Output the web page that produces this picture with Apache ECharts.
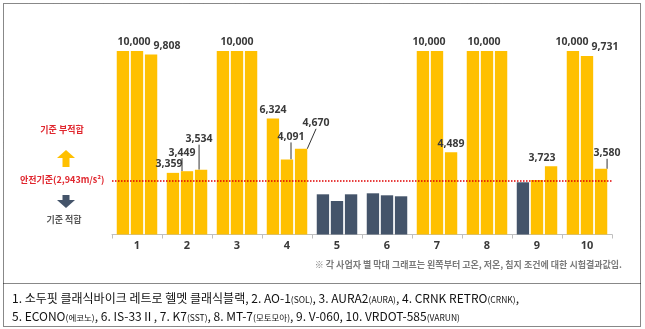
<!DOCTYPE html>
<html><head><meta charset="utf-8">
<script src="https://cdn.jsdelivr.net/npm/echarts@6/dist/echarts.min.js"></script>
<style>html,body{margin:0;padding:0;background:#fff}#c{width:645px;height:329px}</style>
</head><body><div id="c"></div>
<script>
const categories = ['1','2','3','4','5','6','7','8','9','10'];
const hotValues  = [10000, 3359, 10000, 6324, 2190, 2245, 10000, 10000, 2845, 10000];
const coldValues = [10000, 3449, 10000, 4091, 1825, 2136, 10000, 10000, 2970, 9731];
const soakValues = [9808, 3534, 10000, 4670, 2190, 2082, 4489, 10000, 3723, 3580];
const safetyLimit = 2943;
const seriesNames = ['고온', '저온', '침지'];
const noteText = '※ 각 사업자 별 막대 그래프는 왼쪽부터 고온, 저온, 침지 조건에 대한 시험결과값임.';

const YELLOW = '#FFC000', DARK = '#44546A', RED = '#E0262E', TXT = '#3a3a3a';
const FONT = '"Noto Sans CJK KR", "Noto Sans", sans-serif';

// which value labels are shown and how they are nudged (style only)
const labelTweaks = [
  {1: {dx: -4}, 3: {}, 9: {dx: -1}},
  {0: {dx: -3}, 1: {dx: -5, dy: -10, line: true}, 2: {}, 3: {dx: 4, dy: -14, line: true}, 6: {dx: -8}, 7: {dx: -3}, 9: {dx: 18}},
  {0: {dx: 16}, 1: {dx: -2, dy: -22, line: true}, 3: {dx: 15, dy: -17, line: true}, 6: {}, 8: {dx: -9}, 9: {dx: 6, dy: -7, line: true}}
];

function buildData(values, si) {
  return values.map((v, i) => {
    const t = labelTweaks[si][i];
    return {
      value: v,
      itemStyle: {color: v > safetyLimit ? YELLOW : DARK},
      label: {show: !!t},
      labelLine: {show: !!(t && t.line), lineStyle: {color: '#333', width: 1}}
    };
  });
}

const chart = echarts.init(document.getElementById('c'), null, {renderer: 'canvas'});
const allSeries = [hotValues, coldValues, soakValues].map((vals, si) => ({
  name: seriesNames[si],
  type: 'bar',
  data: buildData(vals, si),
  barGap: '14%',
  barCategoryGap: '19%',
  label: {
    position: 'top', distance: 3,
    color: TXT, fontSize: 10.5, fontWeight: 'bold', fontFamily: '"Noto Sans", sans-serif',
    formatter: p => p.value.toLocaleString('en-US')
  },
  labelLayout: p => {
    const t = labelTweaks[p.seriesIndex][p.dataIndex];
    return t ? {dx: t.dx || 0, dy: t.dy || 0} : {};
  },
  markLine: si === 0 ? {
    symbol: 'none', silent: true,
    label: {show: false},
    lineStyle: {color: '#E00000', type: [1.5, 1.5], width: 1.5},
    data: [{yAxis: safetyLimit}]
  } : undefined
}));

const arrowUp = [[57,158],[66,150],[75,158],[69.5,158],[69.5,167],[62.5,167],[62.5,158]];
const arrowDown = [[62.5,195],[69.5,195],[69.5,200],[75,200],[66,208],[57,200],[62.5,200]];
const smallStyle = {fontSize: 8.5, fontFamily: FONT, fill: '#111', verticalAlign: 'bottom', lineHeight: 14};

chart.setOption({
  animation: false,
  backgroundColor: '#fff',
  grid: {left: 112, right: 33, top: 51, bottom: 94.5, containLabel: false},
  xAxis: {
    type: 'category', data: categories,
    axisLine: {lineStyle: {color: '#bfbfbf'}},
    axisTick: {show: true, length: 4, lineStyle: {color: '#bfbfbf'}},
    axisLabel: {color: TXT, fontSize: 11, fontWeight: 'bold', margin: 6, fontFamily: '"Noto Sans", sans-serif'}
  },
  yAxis: {type: 'value', min: 0, max: 10000, show: false, splitLine: {show: false}},
  series: allSeries,
  graphic: [
    {type: 'rect', shape: {x: 3.5, y: 3.5, width: 637, height: 323}, style: {fill: 'none', stroke: '#111', lineWidth: 1, lineDash: [1, 1]}},
    {type: 'line', shape: {x1: 3.5, y1: 283.5, x2: 640.5, y2: 283.5}, style: {stroke: '#111', lineWidth: 1, lineDash: [1, 1]}},
    {type: 'text', x: 62, y: 130, style: {text: '기준 부적합', fill: RED, font: 'bold 9px ' + FONT, textAlign: 'center', textVerticalAlign: 'middle'}},
    {type: 'polygon', shape: {points: arrowUp}, style: {fill: YELLOW}},
    {type: 'text', x: 20, y: 180, style: {text: '안전기준(2,943m/s²)', fill: RED, font: 'bold 9px ' + FONT, textAlign: 'left', textVerticalAlign: 'middle'}},
    {type: 'polygon', shape: {points: arrowDown}, style: {fill: DARK}},
    {type: 'text', x: 64, y: 220, style: {text: '기준 적합', fill: '#595959', font: 'bold 9px ' + FONT, textAlign: 'center', textVerticalAlign: 'middle'}},
    {type: 'text', x: 622, y: 265, style: {text: noteText, fill: '#7a7a7a', font: 'bold 9px ' + FONT, textAlign: 'right', textVerticalAlign: 'middle'}},
    {type: 'text', x: 12, y: 297, style: {
      text: '{m|1. 소두핏 클래식바이크 레트로 헬멧 클래식블랙, 2. AO-1}{s|(SOL)}{m|, 3. AURA2}{s|(AURA)}{m|, 4. CRNK RETRO}{s|(CRNK)}{m|,}',
      textVerticalAlign: 'middle',
      rich: {m: {fontSize: 12, fontFamily: FONT, fill: '#111', verticalAlign: 'bottom', lineHeight: 14}, s: smallStyle}
    }},
    {type: 'text', x: 12, y: 315, style: {
      text: '{m|5. ECONO}{s|(에코노)}{m|, 6. IS-33Ⅱ, 7. K7}{s|(SST)}{m|, 8. MT-7}{s|(모토모아)}{m|, 9. V-060, 10. VRDOT-585}{s|(VARUN)}',
      textVerticalAlign: 'middle',
      rich: {m: {fontSize: 12, fontFamily: FONT, fill: '#111', verticalAlign: 'bottom', lineHeight: 14}, s: smallStyle}
    }}
  ]
});
</script></body></html>
